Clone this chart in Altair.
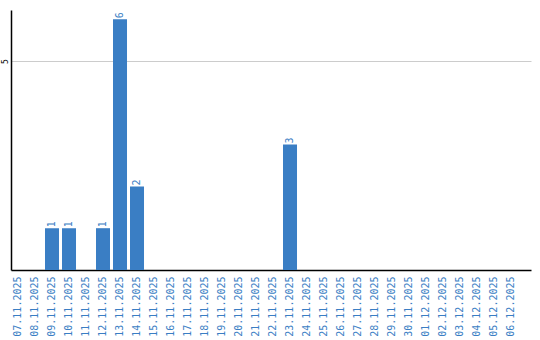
import altair as alt
import pandas as pd

dates = ["07.11.2025", "08.11.2025", "09.11.2025", "10.11.2025", "11.11.2025",
         "12.11.2025", "13.11.2025", "14.11.2025", "15.11.2025", "16.11.2025",
         "17.11.2025", "18.11.2025", "19.11.2025", "20.11.2025", "21.11.2025",
         "22.11.2025", "23.11.2025", "24.11.2025", "25.11.2025", "26.11.2025",
         "27.11.2025", "28.11.2025", "29.11.2025", "30.11.2025", "01.12.2025",
         "02.12.2025", "03.12.2025", "04.12.2025", "05.12.2025", "06.12.2025"]
values = [0, 0, 1, 1, 0, 1, 6, 2, 0, 0, 0, 0, 0, 0, 0,
          0, 3, 0, 0, 0, 0, 0, 0, 0, 0, 0, 0, 0, 0, 0]

df = pd.DataFrame({"date": dates, "value": values})

BLUE = "#3a7ec4"
FONT = "DejaVu Sans Mono"

x = alt.X("date:N", sort=dates,
          scale=alt.Scale(paddingInner=0.176, paddingOuter=0.382, align=0),
          axis=alt.Axis(title=None, labelAngle=-90, labelColor=BLUE, labelFont=FONT,
                        labelFontSize=10, ticks=False, labelPadding=6,
                        domainColor="#000000", domainWidth=1.5, labelAlign="right",
                        labelBaseline="middle"))
y = alt.Y("value:Q", scale=alt.Scale(domain=[0, 6.22], nice=False),
          axis=alt.Axis(title=None, values=[5], labelAngle=270, labelFont=FONT,
                        labelFontSize=8, labelColor="#000000", ticks=False,
                        labelPadding=2, grid=True, gridColor="#cccccc",
                        domainColor="#000000", domainWidth=1.5,
                        labelAlign="center", labelBaseline="bottom"))

bars = alt.Chart(df).mark_bar(color=BLUE).encode(x=x, y=y)
labels = alt.Chart(df).transform_filter("datum.value > 0").mark_text(
    angle=270, align="left", baseline="middle", dx=1, color=BLUE,
    font=FONT, fontSize=10
).encode(x=alt.X("date:N", sort=dates), y="value:Q", text="value:Q")

chart = (bars + labels).properties(
    width=520, height=260,
    autosize=alt.AutoSizeParams(type="none"),
    padding={"left": 11, "top": 10, "right": 9, "bottom": 70},
).configure_view(stroke=None).configure_axis(gridWidth=1)

chart.save("out.html", embed_options={"renderer": "svg", "actions": False})
